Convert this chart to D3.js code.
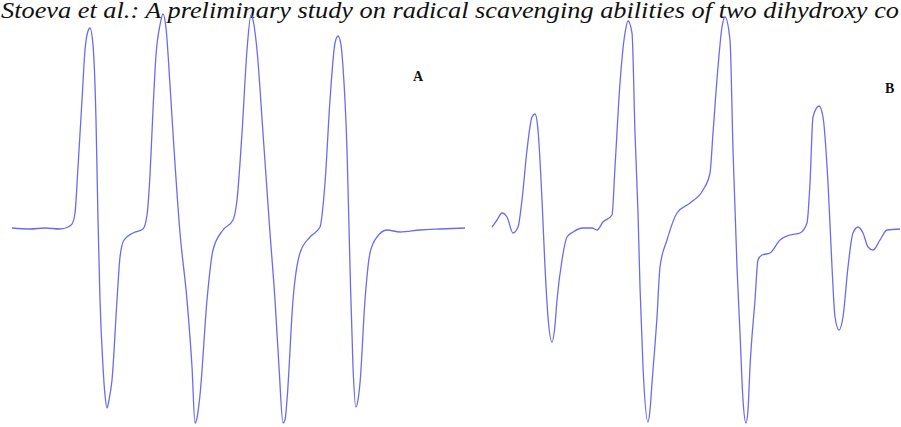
<!DOCTYPE html>
<html>
<head>
  <meta charset="utf-8">
  <script src="https://d3js.org/d3.v7.min.js"></script>
  <style>
    body { margin: 0; background: #fff; }
    .trace { fill: none; stroke: #6b6bf2; stroke-width: 1.3; }
    .panel-label { font-family: "Liberation Serif", "Times New Roman", "DejaVu Serif", serif; font-weight: bold; font-size: 14px; fill: #111; }
    .header { font-family: "Liberation Serif", "Times New Roman", "DejaVu Serif", serif; font-style: italic; font-size: 23px; fill: #111; }
  </style>
</head>
<body>
  <svg id="p" width="901" height="427"></svg>
  <script>
    // spectrum A: field offset (arb. units) and signal intensity
    const fieldA = [0, 18, 33, 48, 56, 60, 63, 66, 70, 73, 76, 78, 81, 84, 86, 88, 91, 93, 95, 97, 100, 105, 108, 112, 121, 131,
      135, 138, 141, 144, 148, 151, 154, 158, 161, 168, 175, 180, 183, 185, 188, 195, 201, 211, 221,
      225, 230, 235, 239, 242, 245, 251, 258, 263, 267, 271, 273, 275, 281, 288, 298, 308,
      313, 318, 323, 326, 329, 331, 335, 338, 341, 344, 346, 348, 353, 358, 365, 375, 388, 408, 428, 453];
    const signalA = [0, -1, 0, -1, 1, 4, 15, 61, 128, 178, 197, 200, 183, 108, 8, -72, -139, -167, -180, -172, -152, -72, -29, -12, -5, -1,
      13, 53, 118, 173, 203, 214, 200, 143, 95, -5, -72, -139, -195, -190, -167, -72, -22, -2, 8,
      28, 95, 178, 213, 203, 178, 95, -5, -72, -139, -195, -192, -172, -72, -25, -9, 1,
      45, 128, 185, 192, 183, 161, 78, -39, -139, -179, -172, -155, -72, -25, -9, -2, -4, -2, -1, 0];

    // spectrum B
    const fieldB = [0, 5, 10, 15, 21, 26, 30, 35, 40, 43, 46, 50, 53, 56, 60, 63, 65, 70, 75, 81, 91, 100, 105, 111,
      120, 123, 128, 133, 136, 140, 143, 146, 148, 151, 156, 158, 160, 165, 168, 175, 185, 198, 211,
      218, 221, 226, 230, 233, 238, 241, 245, 248, 251, 254, 256, 258, 263, 266, 270, 278, 288, 298, 308,
      315, 318, 321, 327, 331, 336, 340, 343, 347, 351, 356, 361, 366, 371, 376, 381, 388, 395, 408];
    const signalB = [1, 8, 15, 11, -5, 1, 28, 78, 111, 114, 98, 28, -39, -89, -114, -97, -72, -32, -9, -4, 0, 0, -2, 6,
      13, 61, 145, 195, 207, 195, 95, 15, -59, -139, -194, -182, -155, -89, -39, -12, 15, 25, 38,
      55, 95, 161, 201, 211, 188, 78, -39, -105, -172, -195, -182, -139, -72, -32, -27, -25, -12, -7, -5,
      5, 45, 111, 122, 111, 45, -39, -89, -102, -89, -39, -5, 1, -5, -19, -22, -12, -2, -1];

    const headerText = "Stoeva et al.: A preliminary study on radical scavenging abilities of two dihydroxy co";

    const svg = d3.select("svg#p");

    svg.append("text")
      .attr("class", "header")
      .attr("x", 1)
      .attr("y", 18)
      .attr("textLength", 898)
      .attr("lengthAdjust", "spacingAndGlyphs")
      .text(headerText);

    const y = d3.scaleLinear().domain([0, 100]).range([228, 128]);
    const xA = d3.scaleLinear().domain([0, 453]).range([12, 465]);
    const xB = d3.scaleLinear().domain([0, 408]).range([492, 900]);

    const panels = [
      {field: fieldA, signal: signalA, x: xA, label: "A", lx: 413, ly: 81},
      {field: fieldB, signal: signalB, x: xB, label: "B", lx: 885, ly: 93}
    ];

    panels.forEach(p => {
      const pts = p.field.map((f, i) => [f, p.signal[i]]);
      const line = d3.line()
        .x(d => p.x(d[0]))
        .y(d => y(d[1]))
        .curve(d3.curveMonotoneX);
      svg.append("path")
        .attr("class", "trace")
        .attr("d", line(pts));
      svg.append("text")
        .attr("class", "panel-label")
        .attr("x", p.lx)
        .attr("y", p.ly)
        .text(p.label);
    });
  </script>
</body>
</html>
